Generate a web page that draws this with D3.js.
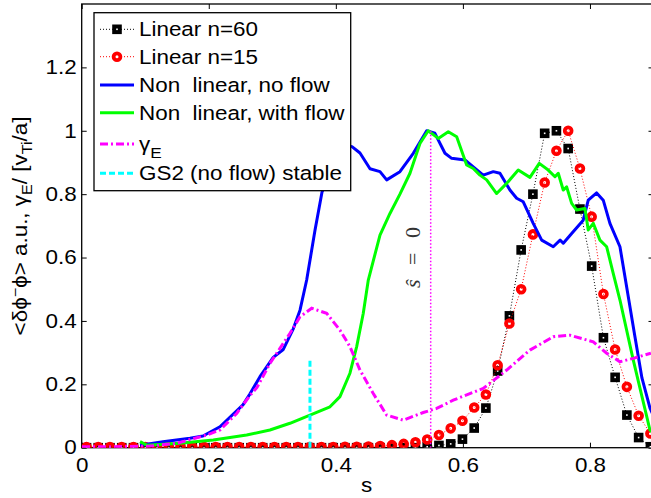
<!DOCTYPE html>
<html><head><meta charset="utf-8">
<script src="https://cdn.jsdelivr.net/npm/d3@7"></script>
<style>html,body{margin:0;padding:0;background:#fff;overflow:hidden}svg{display:block}</style>
</head><body>
<script>
// ---------- data ----------
const sLinear = [0.0076,0.0260,0.0445,0.0630,0.0815,0.1000,0.1185,0.1370,0.1555,0.1740,
  0.1925,0.2110,0.2294,0.2479,0.2664,0.2849,0.3034,0.3219,0.3404,0.3589,
  0.3774,0.3959,0.4144,0.4328,0.4513,0.4698,0.4883,0.5068,0.5253,0.5438,
  0.5623,0.5808,0.5993,0.6178,0.6362,0.6547,0.6732,0.6917,0.7102,0.7287,
  0.7472,0.7657,0.7842,0.8027,0.8212,0.8396,0.8581,0.8766,0.8951];
const linearN60 = [0,0,0,0,0,0,0,0,0,0,
  0,0,0,0,0,0,0,0,0,0,
  0,0,0,0,0,0,0,0,0,0.003,
  0.007,0.012,0.027,0.062,0.125,0.242,0.416,0.624,0.80,0.992,
  1.0,0.944,0.753,0.573,0.347,0.222,0.103,0.032,0.003];
const linearN15 = [0.002,0.002,0.002,0.002,0.002,0.002,0.002,0.002,0.002,0.002,
  0.002,0.002,0.002,0.002,0.002,0.002,0.002,0.002,0.002,0.002,
  0.002,0.002,0.003,0.003,0.004,0.005,0.008,0.012,0.017,0.026,
  0.040,0.061,0.085,0.127,0.168,0.260,0.392,0.500,0.673,0.837,
  0.937,1.0,0.881,0.729,0.485,0.310,0.192,0.101,0.045];

const sNoFlow = [0.0918,0.128,0.1704,0.1909,0.2176,0.2538,0.2649,0.2806,0.3015,0.3173,
  0.3330,0.3436,0.3541,0.3672,0.3782,0.3987,0.4144,0.4254,0.4380,0.4538,
  0.4695,0.4800,0.5009,0.5219,0.5430,0.5560,0.5718,0.5823,0.6032,0.6163,
  0.6320,0.6478,0.6583,0.6740,0.6846,0.6950,0.7107,0.7240,0.7422,0.7530,
  0.7580,0.7712,0.7894,0.7973,0.8105,0.8209,0.8314,0.8472,0.8577,0.8708,
  0.8818,0.8945,0.9];
const nlNoFlow = [0.008,0.019,0.030,0.037,0.066,0.135,0.170,0.224,0.285,0.310,
  0.375,0.434,0.529,0.686,0.806,0.900,0.955,0.950,0.930,0.880,
  0.871,0.845,0.871,0.929,1.0,0.992,0.929,0.913,0.908,0.886,
  0.860,0.871,0.866,0.813,0.787,0.776,0.708,0.655,0.634,0.655,
  0.645,0.676,0.718,0.781,0.804,0.781,0.708,0.634,0.508,0.350,
  0.220,0.125,0.100];

const sWithFlow = [0.0918,0.1023,0.1547,0.2071,0.2597,0.2963,0.3278,0.3593,0.3908,0.4065,
  0.4222,0.4328,0.4432,0.4511,0.4695,0.4852,0.5009,0.5167,0.5324,0.5455,
  0.5612,0.5770,0.5902,0.6059,0.6163,0.6268,0.6374,0.6531,0.6689,0.6871,
  0.7055,0.7202,0.7343,0.7449,0.7501,0.7579,0.7633,0.7712,0.7790,0.7921,
  0.7973,0.8052,0.8157,0.8263,0.8366,0.8472,0.8681,0.8944,0.9];
const nlWithFlow = [0.019,0.008,0.014,0.024,0.040,0.056,0.077,0.103,0.129,0.161,
  0.235,0.319,0.424,0.529,0.671,0.739,0.800,0.866,0.960,1.0,
  0.976,0.997,0.981,0.892,0.881,0.860,0.845,0.802,0.834,0.876,
  0.853,0.897,0.876,0.855,0.866,0.813,0.823,0.771,0.750,0.755,
  0.687,0.708,0.655,0.634,0.550,0.466,0.277,0.056,0.045];

const sGammaE = [0.0005,0.0445,0.1075,0.1495,0.1967,0.2177,0.2439,0.2649,0.2759,0.2963,
  0.3278,0.3436,0.3620,0.3856,0.4065,0.4222,0.4380,0.4589,0.4800,0.5061,
  0.5376,0.5587,0.5848,0.6320,0.6689,0.7055,0.7422,0.7685,0.8052,0.8263,
  0.8472,0.8681,0.8959];
const gammaE = [0.003,0.003,0.005,0.014,0.040,0.056,0.108,0.165,0.190,0.266,
  0.361,0.413,0.440,0.424,0.371,0.319,0.245,0.171,0.103,0.087,
  0.111,0.124,0.150,0.187,0.245,0.308,0.350,0.355,0.334,0.298,
  0.271,0.282,0.298];

const gs2S = [0.3593,0.3593];
const gs2Y = [0,0.28];
const shatS = [0.5493,0.5493];
const shatY = [0,1.0];

const xTicks = [0,0.2,0.4,0.6,0.8];
const yTicks = [0,0.2,0.4,0.6,0.8,1,1.2];
const legendLabels = ["Linear n=60","Linear n=15","Non  linear, no flow","Non  linear, with flow","γE","GS2 (no flow) stable"];

// ---------- layout ----------
const W = 651, H = 498;
const FONT = "'Liberation Sans', Arial, Helvetica, sans-serif";
const FS = 19.5, SX = 1.15;
const X0 = 81.7, X1 = 653.5, Y0 = 447.7, Y1 = 4;

const svg = d3.select("body").append("svg").attr("width", W).attr("height", H)
  .style("background", "#fff");

const x = d3.scaleLinear().domain([0, 0.9]).range([X0, X1]);
const y = d3.scaleLinear().domain([0, 1.4]).range([Y0, Y1]);

svg.append("defs").append("clipPath").attr("id", "clip")
  .append("rect").attr("x", X0).attr("y", Y1).attr("width", X1 - X0).attr("height", Y0 - Y1);

function styleAxis(g) {
  g.select(".domain").remove();
  g.selectAll(".tick line").attr("stroke", "#000").attr("stroke-width", 1);
  g.selectAll("text").attr("font-family", FONT).attr("font-size", FS).attr("fill", "#000");
}
const gx = svg.append("g").attr("transform", `translate(0,${Y0})`)
  .call(d3.axisBottom(x).tickValues(xTicks).tickFormat(d3.format("")).tickSizeInner(-5).tickSizeOuter(0).tickPadding(10));
styleAxis(gx);
gx.selectAll("text").attr("y", 0).attr("transform", `translate(0,10) scale(${SX},1)`);

const gxt = svg.append("g").attr("transform", `translate(0,${Y1})`)
  .call(d3.axisTop(x).tickValues(xTicks).tickFormat("").tickSizeInner(-5).tickSizeOuter(0));
styleAxis(gxt);

const gy = svg.append("g").attr("transform", `translate(${X0},0)`)
  .call(d3.axisLeft(y).tickValues(yTicks).tickFormat(d3.format("")).tickSizeInner(-5).tickSizeOuter(0).tickPadding(5));
styleAxis(gy);
gy.selectAll("text").attr("x", 0).attr("transform", `translate(-5,0) scale(${SX},1)`);

const gyr = svg.append("g").attr("transform", `translate(${X1},0)`)
  .call(d3.axisRight(y).tickValues(yTicks).tickFormat("").tickSizeInner(-5).tickSizeOuter(0));
styleAxis(gyr);

svg.append("rect").attr("x", X0).attr("y", Y1).attr("width", X1 - X0).attr("height", Y0 - Y1)
  .attr("fill", "none").attr("stroke", "#000").attr("stroke-width", 1.3);

svg.append("text").attr("transform", `translate(${(X0 + X1) / 2 - 1},492) scale(${SX},1)`)
  .attr("text-anchor", "middle").attr("font-family", FONT).attr("font-size", FS).text("s");

const yl = svg.append("text").attr("transform", `translate(27,226) rotate(-90) scale(${SX},1)`)
  .attr("text-anchor", "middle").attr("font-family", FONT).attr("font-size", FS);
yl.append("tspan").text("<δϕ");
yl.append("tspan").attr("font-size", 14).attr("dy", -7).text("−");
yl.append("tspan").attr("dy", 7).text("ϕ> a.u., γ");
yl.append("tspan").attr("font-size", 14).attr("dy", 5).text("E");
yl.append("tspan").attr("dy", -5).text("/ [v");
yl.append("tspan").attr("font-size", 14).attr("dy", 5).text("Ti");
yl.append("tspan").attr("dy", -5).text("/a]");

// ---------- series ----------
const plot = svg.append("g").attr("clip-path", "url(#clip)");
const line = d3.line().x(d => x(d[0])).y(d => y(d[1]));
const zip = (a, b) => a.map((v, i) => [v, b[i]]);

const d60 = zip(sLinear, linearN60);
const d15 = zip(sLinear, linearN15);

plot.append("path").attr("d", line(d60)).attr("fill", "none").attr("stroke", "#000")
  .attr("stroke-width", 1).attr("stroke-dasharray", "1,2");
plot.selectAll("rect.sq").data(d60).join("rect").attr("class", "sq")
  .attr("x", d => x(d[0]) - 2.8).attr("y", d => y(d[1]) - 2.8).attr("width", 5.6).attr("height", 5.6)
  .attr("fill", "#fff").attr("stroke", "#000").attr("stroke-width", 4);

plot.append("path").attr("d", line(d15)).attr("fill", "none").attr("stroke", "#ff0000")
  .attr("stroke-width", 1).attr("stroke-dasharray", "1,2");
plot.selectAll("circle.ci").data(d15).join("circle").attr("class", "ci")
  .attr("cx", d => x(d[0])).attr("cy", d => y(d[1])).attr("r", 3.4)
  .attr("fill", "none").attr("stroke", "#ff0000").attr("stroke-width", 3.8);

plot.append("path").attr("d", line(zip(sNoFlow, nlNoFlow))).attr("fill", "none")
  .attr("stroke", "#0000ff").attr("stroke-width", 3).attr("stroke-linejoin", "round");
plot.append("path").attr("d", line(zip(sWithFlow, nlWithFlow))).attr("fill", "none")
  .attr("stroke", "#00ff00").attr("stroke-width", 3).attr("stroke-linejoin", "round");
plot.append("path").attr("d", line(zip(sGammaE, gammaE))).attr("fill", "none")
  .attr("stroke", "#ff00ff").attr("stroke-width", 3).attr("stroke-dasharray", "8,3,2,3");
plot.append("path").attr("d", line(zip(gs2S, gs2Y))).attr("fill", "none")
  .attr("stroke", "#00ffff").attr("stroke-width", 3).attr("stroke-dasharray", "6,3");
plot.append("path").attr("d", line(zip(shatS, shatY))).attr("fill", "none")
  .attr("stroke", "#ff00ff").attr("stroke-width", 1.5).attr("stroke-dasharray", "1.5,2");

const sh = svg.append("text").attr("transform", "translate(420,257.5) rotate(-90)")
  .attr("text-anchor", "middle").attr("font-family", "'Liberation Serif', 'Times New Roman', serif")
  .attr("font-size", 22).attr("fill", "#333").attr("textLength", 61).attr("lengthAdjust", "spacing")
  .style("white-space", "pre");
sh.append("tspan").attr("font-style", "italic").text("ŝ");
sh.append("tspan").text(" = 0");

// ---------- legend ----------
const lg = svg.append("g");
lg.append("rect").attr("x", 94).attr("y", 12.7).attr("width", 256.7).attr("height", 178)
  .attr("fill", "#fff").attr("stroke", "#000").attr("stroke-width", 1.3);
const rowY = [29.3, 56.7, 85, 112.7, 144, 173.3];
const lx0 = 100, lx1 = 134, lxm = 117, tx = 139;
lg.append("line").attr("x1", lx0).attr("x2", lx1).attr("y1", rowY[0]).attr("y2", rowY[0])
  .attr("stroke", "#000").attr("stroke-width", 1).attr("stroke-dasharray", "1,2");
lg.append("rect").attr("x", lxm - 2.8).attr("y", rowY[0] - 2.8).attr("width", 5.6).attr("height", 5.6)
  .attr("fill", "#fff").attr("stroke", "#000").attr("stroke-width", 4);
lg.append("line").attr("x1", lx0).attr("x2", lx1).attr("y1", rowY[1]).attr("y2", rowY[1])
  .attr("stroke", "#ff0000").attr("stroke-width", 1).attr("stroke-dasharray", "1,2");
lg.append("circle").attr("cx", lxm).attr("cy", rowY[1]).attr("r", 3.4)
  .attr("fill", "#fff").attr("stroke", "#ff0000").attr("stroke-width", 3.8);
lg.append("line").attr("x1", lx0).attr("x2", lx1).attr("y1", rowY[2]).attr("y2", rowY[2])
  .attr("stroke", "#0000ff").attr("stroke-width", 3);
lg.append("line").attr("x1", lx0).attr("x2", lx1).attr("y1", rowY[3]).attr("y2", rowY[3])
  .attr("stroke", "#00ff00").attr("stroke-width", 3);
lg.append("line").attr("x1", lx0).attr("x2", lx1).attr("y1", rowY[4]).attr("y2", rowY[4])
  .attr("stroke", "#ff00ff").attr("stroke-width", 3).attr("stroke-dasharray", "8,3,2,3");
lg.append("line").attr("x1", lx0).attr("x2", lx1).attr("y1", rowY[5]).attr("y2", rowY[5])
  .attr("stroke", "#00ffff").attr("stroke-width", 3).attr("stroke-dasharray", "6,3");

legendLabels.forEach((lab, i) => {
  const t = lg.append("text").attr("transform", `translate(${tx},${rowY[i] + 7}) scale(${SX},1)`)
    .attr("font-family", FONT).attr("font-size", FS).style("white-space", "pre");
  if (lab === "γE") {
    t.append("tspan").text("γ");
    t.append("tspan").attr("font-size", 15).attr("dy", 7).text("E");
  } else {
    t.text(lab);
  }
});
</script>
</body></html>
